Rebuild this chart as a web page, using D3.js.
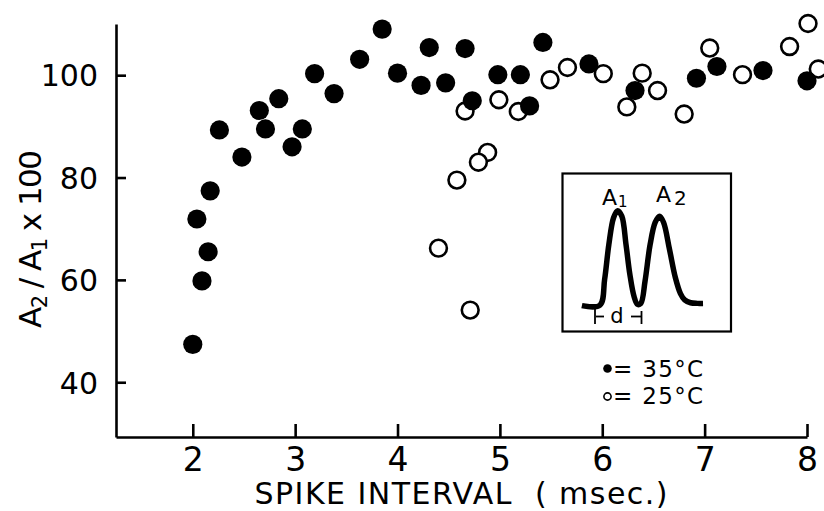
<!DOCTYPE html>
<html>
<head>
<meta charset="utf-8">
<script src="https://cdn.jsdelivr.net/npm/d3@7"></script>
<style>
  html, body { margin: 0; padding: 0; background: #fff; }
  svg { display: block; font-family: "DejaVu Sans", sans-serif; }
</style>
</head>
<body>
<svg id="chart" width="824" height="511"></svg>
<script>
// Paired-pulse ratio A2/A1 (x100) against spike interval (msec) at two temperatures.
const warmInterval = [2.0, 2.09, 2.15, 2.04, 2.17, 2.26, 2.48, 2.65, 2.71, 2.84, 2.97, 3.07,
  3.19, 3.38, 3.63, 3.85, 4.0, 4.31, 4.66, 4.23, 4.47, 5.42, 4.98, 5.2, 4.73, 5.29,
  5.87, 6.32, 6.92, 7.12, 7.57, 8.0];
const warmRatio = [47.4, 59.8, 65.5, 71.9, 77.4, 89.3, 84.0, 93.1, 89.5, 95.4, 86.0, 89.5,
  100.3, 96.4, 103.1, 109.0, 100.4, 105.4, 105.2, 98.0, 98.5, 106.4, 100.1, 100.1, 95.0, 94.0,
  102.2, 97.0, 99.4, 101.7, 100.9, 98.9];

const coolInterval = [8.01, 7.83, 8.11, 7.37, 7.05, 6.8, 6.54, 6.39, 6.24, 6.01, 5.66, 5.49,
  5.18, 4.99, 4.66, 4.88, 4.79, 4.58, 4.4, 4.71];
const coolRatio = [110.1, 105.6, 101.2, 100.1, 105.3, 92.4, 97.0, 100.4, 93.8, 100.3, 101.5, 99.1,
  92.9, 95.2, 93.0, 84.9, 83.0, 79.5, 66.2, 54.1];

const xTicks = [2, 3, 4, 5, 6, 7, 8];
const yTicks = [40, 60, 80, 100];
const legendLabels = ["= 35°C", "= 25°C"];

// Inset: schematic of two successive spikes (normalised time, normalised amplitude)
const waveT = [0.115, 0.222, 0.25, 0.275, 0.303, 0.327, 0.352, 0.377, 0.40, 0.425, 0.445, 0.465,
  0.49, 0.52, 0.55, 0.576, 0.60, 0.635, 0.67, 0.70, 0.725, 0.76, 0.80, 0.834];
const waveV = [0.164, 0.166, 0.33, 0.55, 0.72, 0.765, 0.73, 0.55, 0.36, 0.22, 0.172, 0.178,
  0.32, 0.55, 0.69, 0.73, 0.69, 0.52, 0.34, 0.24, 0.2, 0.182, 0.178, 0.178];

const svg = d3.select("#chart");

const x = d3.scaleLinear().domain([1.25, 8]).range([116, 807]);
const y = d3.scaleLinear().domain([29.3, 110]).range([437, 24]);

// Axes
const xAxis = svg.append("g")
  .attr("transform", `translate(0,${y.range()[0]})`)
  .call(d3.axisBottom(x).tickValues(xTicks).tickFormat(d3.format("d"))
    .tickSize(-13).tickSizeOuter(0).tickPadding(11));

const yAxis = svg.append("g")
  .attr("transform", `translate(${x.range()[0]},0)`)
  .call(d3.axisLeft(y).tickValues(yTicks).tickFormat(d3.format("d"))
    .tickSize(-10).tickSizeOuter(0).tickPadding(18));

[xAxis, yAxis].forEach(g => {
  g.attr("font-family", null).attr("font-size", null);
  g.select(".domain").attr("stroke", "#000").attr("stroke-width", 2.6);
  g.selectAll(".tick line").attr("stroke", "#000").attr("stroke-width", 2.6);
  g.selectAll(".tick text").attr("fill", "#000");
});
xAxis.selectAll(".tick text").attr("font-size", 33);
yAxis.selectAll(".tick text").attr("font-size", 30).attr("dy", "0.36em");

// Axis titles
svg.append("text")
  .attr("x", 461).attr("y", 504)
  .attr("text-anchor", "middle")
  .attr("font-size", 30)
  .attr("textLength", 413).attr("lengthAdjust", "spacing")
  .style("white-space", "pre")
  .text("SPIKE INTERVAL  ( msec.)");

const yTitle = svg.append("text")
  .attr("transform", "translate(41,239) rotate(-90)")
  .attr("text-anchor", "middle")
  .attr("font-size", 31)
  .attr("textLength", 178).attr("lengthAdjust", "spacing")
  .style("white-space", "pre");
yTitle.append("tspan").text("A");
yTitle.append("tspan").attr("font-size", 21).attr("dy", 6).text("2");
yTitle.append("tspan").attr("dy", -6).text(" / A");
yTitle.append("tspan").attr("font-size", 21).attr("dy", 6).text("1");
yTitle.append("tspan").attr("dy", -6).text(" x 100");

// Data points: 25°C open circles beneath, 35°C filled dots on top
svg.append("g").selectAll("circle")
  .data(d3.zip(coolInterval, coolRatio))
  .join("circle")
  .attr("cx", d => x(d[0])).attr("cy", d => y(d[1]))
  .attr("r", 8.4)
  .attr("fill", "#fff").attr("stroke", "#000").attr("stroke-width", 2.6);

svg.append("g").selectAll("circle")
  .data(d3.zip(warmInterval, warmRatio))
  .join("circle")
  .attr("cx", d => x(d[0])).attr("cy", d => y(d[1]))
  .attr("r", 9.6)
  .attr("fill", "#000");

// Inset box with spike diagram
const box = { left: 562.5, right: 731, top: 173.5, bottom: 331.5 };
const inset = svg.append("g");
inset.append("rect")
  .attr("x", box.left).attr("y", box.top)
  .attr("width", box.right - box.left).attr("height", box.bottom - box.top)
  .attr("fill", "none").attr("stroke", "#000").attr("stroke-width", 2.2);

const ix = d3.scaleLinear().domain([0, 1]).range([box.left, box.right]);
const iy = d3.scaleLinear().domain([0, 1]).range([box.bottom, box.top]);

inset.append("path")
  .datum(d3.zip(waveT, waveV))
  .attr("d", d3.line().x(d => ix(d[0])).y(d => iy(d[1])).curve(d3.curveCatmullRom.alpha(0.5)))
  .attr("fill", "none").attr("stroke", "#000").attr("stroke-width", 5.5)
  .attr("stroke-linejoin", "round").attr("stroke-linecap", "butt");

const a1 = inset.append("text").attr("x", 602).attr("y", 205).attr("font-size", 22);
a1.append("tspan").text("A");
a1.append("tspan").attr("font-size", 15).attr("dx", 1).attr("dy", 2).text("1");
const a2 = inset.append("text").attr("x", 656).attr("y", 202).attr("font-size", 22);
a2.append("tspan").text("A");
a2.append("tspan").attr("font-size", 20).attr("dx", 3).attr("dy", 3).text("2");

// Interval marker |-d-|
const mk = inset.append("g").attr("stroke", "#000").attr("stroke-width", 1.8);
mk.append("line").attr("x1", 595).attr("x2", 595).attr("y1", 307).attr("y2", 324);
mk.append("line").attr("x1", 596).attr("x2", 604).attr("y1", 316.5).attr("y2", 316.5);
mk.append("line").attr("x1", 631).attr("x2", 641).attr("y1", 316.5).attr("y2", 316.5);
mk.append("line").attr("x1", 641.5).attr("x2", 641.5).attr("y1", 311).attr("y2", 324);
inset.append("text").attr("x", 617).attr("y", 323).attr("text-anchor", "middle")
  .attr("font-size", 21).text("d");

// Legend
const legend = svg.append("g");
legend.append("circle").attr("cx", 607.5).attr("cy", 368.5).attr("r", 4.3).attr("fill", "#000");
legend.append("circle").attr("cx", 607.5).attr("cy", 396.5).attr("r", 3.6)
  .attr("fill", "#fff").attr("stroke", "#000").attr("stroke-width", 1.6);
legend.selectAll("text.lg")
  .data(legendLabels)
  .join("text")
  .attr("class", "lg")
  .attr("x", 613).attr("y", (d, i) => 377 + i * 27)
  .attr("font-size", 23)
  .attr("textLength", 90).attr("lengthAdjust", "spacing")
  .text(d => d);
</script>
</body>
</html>
